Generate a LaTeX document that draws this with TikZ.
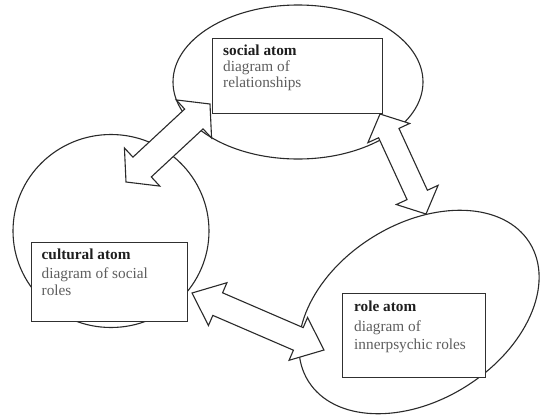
\documentclass[tikz,border=0pt]{standalone}
\usepackage{fontspec}
\setmainfont{Liberation Serif}
\usetikzlibrary{calc,shapes.geometric}

\definecolor{inkline}{HTML}{2A2A2A}
\definecolor{boxline}{HTML}{303030}
\definecolor{titleink}{HTML}{1E1E1E}
\definecolor{bodyink}{HTML}{5E5E5E}

% Double-headed block arrow between two named points.
% #1, #2: tips; #3: head length; #4: head half-width; #5: shaft half-width
\newcommand\dblblockarrow[5]{%
  \draw[blockarrow] (#1)
    -- ($(#1)!#3!(#2)!#4!90:(#2)$)
    -- ($(#1)!#3!(#2)!#5!90:(#2)$)
    -- ($(#2)!#3!(#1)!#5!-90:(#1)$)
    -- ($(#2)!#3!(#1)!#4!-90:(#1)$)
    -- (#2)
    -- ($(#2)!#3!(#1)!#4!90:(#1)$)
    -- ($(#2)!#3!(#1)!#5!90:(#1)$)
    -- ($(#1)!#3!(#2)!#5!-90:(#2)$)
    -- ($(#1)!#3!(#2)!#4!-90:(#2)$)
    -- cycle;}

\begin{document}
\begin{tikzpicture}[
    x=1pt, y=-1pt,
    atom/.style={ellipse, draw=inkline, fill=white, line width=1.1pt, inner sep=0pt, outer sep=0pt},
    labelbox/.style={rectangle, draw=boxline, fill=white, line width=1.2pt, inner sep=0pt, anchor=north west},
    blockarrow/.style={draw=inkline, fill=white, line width=1.1pt, line join=miter},
    title/.style={anchor=base west, inner sep=0pt, text=titleink, font=\fontsize{15.3}{18}\selectfont\bfseries},
    body/.style={anchor=base west, inner sep=0pt, text=bodyink, font=\fontsize{15.3}{18}\selectfont},
  ]
  \useasboundingbox (0,0) rectangle (542,416);
  \fill[white] (0,0) rectangle (542,416);

  % the three atoms
  \node[atom, minimum width=250pt, minimum height=154pt] (socialatom) at (298,82) {};
  \node[atom, minimum width=196pt, minimum height=193pt] (culturalatom) at (111,231) {};
  \node[atom, minimum width=261pt, minimum height=176pt, rotate=32] (roleatom) at (419,312) {};

  % arrow end points
  \coordinate (scA) at (210,104);
  \coordinate (scB) at (126,182);
  \coordinate (srA) at (380,114);
  \coordinate (srB) at (426,214);
  \coordinate (crA) at (192,293);
  \coordinate (crB) at (324,350);

  \dblblockarrow{scA}{scB}{22pt}{26pt}{13.5pt}
  \dblblockarrow{srA}{srB}{21pt}{23pt}{11.2pt}
  \dblblockarrow{crA}{crB}{28pt}{23.3pt}{12.3pt}

  % label boxes
  \node[labelbox, minimum width=170pt, minimum height=75pt] (socialbox) at (212,38) {};
  \node[labelbox, minimum width=156pt, minimum height=79pt] (culturalbox) at (31,242) {};
  \node[labelbox, minimum width=143pt, minimum height=84pt] (rolebox) at (342,293) {};

  \node[title] (socialtitle) at (223,55) {social atom};
  \node[body] (socialline1) at (223,71.5) {diagram of};
  \node[body] (socialline2) at (223,87.5) {relationships};

  \node[title] (culturaltitle) at (41.5,259.7) {cultural atom};
  \node[body] (culturalline1) at (41.5,278) {diagram of social};
  \node[body] (culturalline2) at (41.5,295) {roles};

  \node[title] (roletitle) at (354,311) {role atom};
  \node[body] (roleline1) at (354,331) {diagram of};
  \node[body] (roleline2) at (354,349.3) {innerpsychic roles};
\end{tikzpicture}
\end{document}
